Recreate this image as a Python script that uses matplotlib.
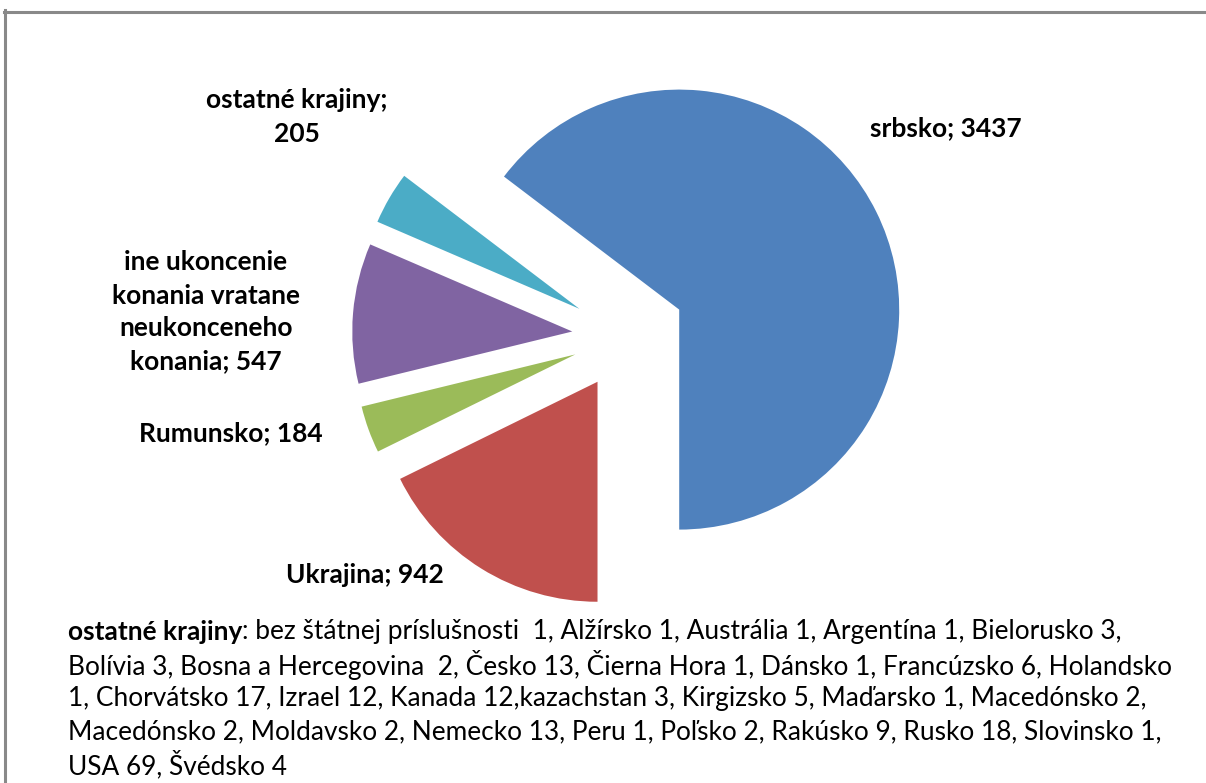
import matplotlib.pyplot as plt
from matplotlib import font_manager
from matplotlib.lines import Line2D

W, H = 1206, 783

# chart data
labels = ["srbsko", "Ukrajina", "Rumunsko",
          "ine ukoncenie\nkonania vratane\nneukonceneho\nkonania", "ostatné krajiny"]
values = [3437, 942, 184, 547, 205]
label_fmt = ["{}; {}", "{}; {}", "{}; {}", "{}; {}", "{};\n{}"]
colors = ["#4F81BD", "#C0504D", "#9BBB59", "#8064A2", "#4BACC6"]
explode_frac = [0.27, 0.245, 0.245, 0.245, 0.245]

note_head = "ostatné krajiny"
note_lines = [
    ": bez štátnej príslušnosti  1, Alžírsko 1, Austrália 1, Argentína 1, Bielorusko 3,",
    "Bolívia 3, Bosna a Hercegovina  2, Česko 13, Čierna Hora 1, Dánsko 1, Francúzsko 6, Holandsko",
    "1, Chorvátsko 17, Izrael 12, Kanada 12,kazachstan 3, Kirgizsko 5, Maďarsko 1, Macedónsko 2,",
    "Macedónsko 2, Moldavsko 2, Nemecko 13, Peru 1, Poľsko 2, Rakúsko 9, Rusko 18, Slovinsko 1,",
    "USA 69, Švédsko 4",
]

# label centres in pixel coords (y from top)
label_pos = [(946, 128), (365, 575), (231, 433), (206, 312), (297, 117)]


def _has_font(name):
    try:
        font_manager.findfont(name, fallback_to_default=False)
        return True
    except Exception:
        return False


label_font = "Lato" if _has_font("Lato") else "DejaVu Sans"
note_font = "Liberation Sans Narrow" if _has_font("Liberation Sans Narrow") else label_font

fig = plt.figure(figsize=(W / 100, H / 100), dpi=100)
ax = fig.add_axes([0, 0, 1, 1])

radius = 220
start = -90 + 360 * values[0] / sum(values)
# matplotlib's explode is an absolute offset, so scale by radius
ax.pie(values, explode=[f * radius for f in explode_frac], colors=colors,
       startangle=start, counterclock=False,
       center=(626, H - 336), radius=radius, wedgeprops=dict(linewidth=0))
ax.set_xlim(0, W)
ax.set_ylim(0, H)
ax.set_aspect("equal")
ax.axis("off")

for lbl, val, fmt, (x, y) in zip(labels, values, label_fmt, label_pos):
    ax.text(x, H - y, fmt.format(lbl, val), ha="center", va="center",
            fontsize=19, fontweight="bold", family=label_font, color="black",
            linespacing=1.45)

# footnote
note_fs = 16
line_gap = 33.3
x0, y0 = 68, 632
t_head = ax.text(x0, H - y0, note_head, ha="left", va="center",
                 fontsize=note_fs, fontweight="bold", family=note_font)
t_rest = ax.annotate(note_lines[0], xy=(1, 0.5), xycoords=t_head, ha="left", va="center",
                     fontsize=note_fs, family=note_font)
others = []
for i, line in enumerate(note_lines[1:], start=1):
    others.append(ax.text(x0, H - (y0 + i * line_gap), line, ha="left", va="center",
                          fontsize=note_fs, family=note_font))

# fit the first footnote line to the reference width
fig.canvas.draw()
r = fig.canvas.get_renderer()
w = t_head.get_window_extent(r).width + t_rest.get_window_extent(r).width
scale = 1057 / w
for t in [t_head, t_rest] + others:
    t.set_fontsize(note_fs * scale)

# frame
fig.add_artist(Line2D([4 / W, 1], [1 - 11.5 / H, 1 - 11.5 / H], transform=fig.transFigure,
                      color="#898989", linewidth=2.2))
fig.add_artist(Line2D([4.5 / W, 4.5 / W], [0, 1 - 10 / H], transform=fig.transFigure,
                      color="#898989", linewidth=2.2))

fig.savefig("out.png", dpi=100)
